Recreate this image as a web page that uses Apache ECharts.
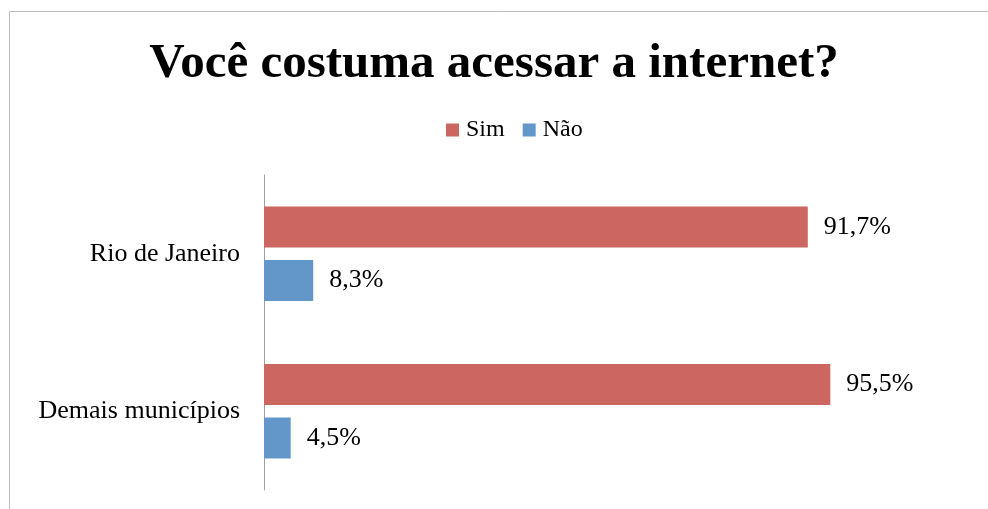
<!DOCTYPE html>
<html><head><meta charset="utf-8">
<script src="https://cdn.jsdelivr.net/npm/echarts@6/dist/echarts.min.js"></script>
<style>html,body{margin:0;padding:0;background:#fff}#c{width:988px;height:509px}</style>
</head><body><div id="c"></div>
<script>
const title = 'Você costuma acessar a internet?';
const categories = ['Rio de Janeiro', 'Demais municípios'];
const seriesNames = ['Sim', 'Não'];
const simValues = [91.7, 95.5];
const naoValues = [8.3, 4.5];
const colors = ['#CC6661', '#6397CA'];
const serif = 'Liberation Serif';
const chart = echarts.init(document.getElementById('c'));
const lbl = {
  show: true, position: 'right', distance: 16,
  fontFamily: serif, fontSize: 26, color: '#000',
  formatter: p => String(p.value).replace('.', ',') + '%'
};
chart.setOption({
  animation: false,
  graphic: [{type: 'rect', shape: {x: 9.5, y: 11.5, width: 1200, height: 800},
    style: {fill: 'none', stroke: '#bdbdbd', lineWidth: 1}, silent: true}],
  title: {text: title, left: 'center', top: 35,
    textStyle: {fontFamily: serif, fontWeight: 'bold', fontSize: 49, color: '#000'}},
  legend: {data: seriesNames, top: 113, left: 441, itemWidth: 13, itemHeight: 13, itemGap: 18,
    icon: 'rect', textStyle: {fontFamily: serif, fontSize: 24, color: '#000', padding: [0, 0, 0, 2]}},
  grid: {left: 264, right: 131, top: 175, bottom: 19, containLabel: false},
  xAxis: {type: 'value', min: 0, max: 100, show: false},
  yAxis: {type: 'category', data: categories, inverse: true,
    axisLine: {lineStyle: {color: '#a0a0a0'}}, axisTick: {show: false},
    axisLabel: {margin: 24, fontFamily: serif, fontSize: 26, color: '#000'}},
  series: [
    {name: seriesNames[0], type: 'bar', data: simValues, barWidth: 41, barGap: '30%',
      itemStyle: {color: colors[0]}, label: lbl},
    {name: seriesNames[1], type: 'bar', data: naoValues, barWidth: 41,
      itemStyle: {color: colors[1]}, label: lbl}
  ]
});
</script></body></html>
